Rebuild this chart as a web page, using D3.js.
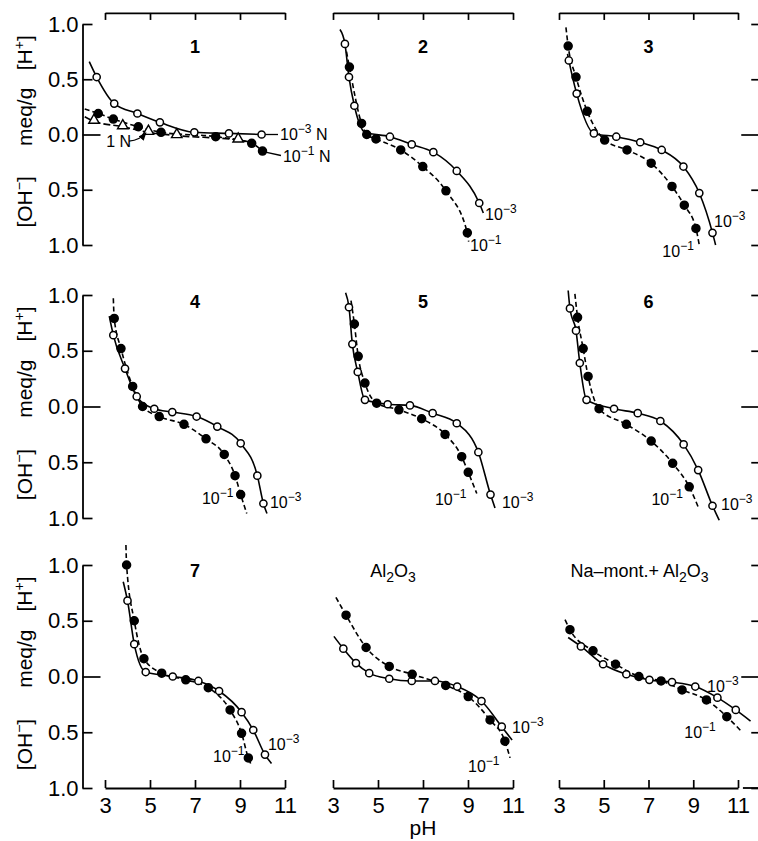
<!DOCTYPE html>
<html>
<head>
<meta charset="utf-8">
<script src="https://cdn.jsdelivr.net/npm/d3@7"></script>
<style>
body { margin: 0; background: #fff; }
svg { display: block; }
text { font-family: "Liberation Sans", Arial, Helvetica, sans-serif; fill: #000; }
</style>
</head>
<body>
<div id="chart"></div>
<script>
var w = 758;
var h = 841;

// tick values
var phTicks = [3, 5, 7, 9, 11];
var yTicks = [-1, -0.5, 0, 0.5, 1];

// data: [pH, meq/g] with H+ positive and OH- negative
// "Ext" arrays are extra points (ends, knees)
var p1Open = [[2.63, 0.52], [3.41, 0.28], [4.44, 0.19], [5.44, 0.11], [6.97, 0.02], [8.51, 0.01], [9.96, 0.0]];
var p1OpenExt = [[2.3, 0.66]];
var p1Fill = [[2.70, 0.19], [3.37, 0.14], [4.48, 0.07], [5.49, 0.02], [7.92, -0.02], [9.52, -0.08], [10.0, -0.15]];
var p1FillExt = [[2.1, 0.23]];
var p1Tri = [[2.51, 0.12], [3.79, 0.07], [4.93, 0.02], [6.19, -0.01], [8.92, -0.05]];
var p1TriExt = [[2.1, 0.16], [9.5, -0.07]];

var p2Open = [[3.53, 0.82], [3.71, 0.52], [3.95, 0.26], [5.53, -0.02], [6.5, -0.09], [7.46, -0.16], [8.5, -0.33], [9.5, -0.62]];
var p2OpenExt = [[3.31, 0.95], [4.42, 0.02], [9.68, -0.71]];
var p2Fill = [[3.73, 0.61], [4.27, 0.10], [4.5, 0.0], [4.91, -0.04], [6.01, -0.14], [6.99, -0.29], [8.02, -0.51], [8.97, -0.89]];
var p2FillExt = [[3.6, 0.75], [9.03, -0.97]];

var p3Fill = [[3.41, 0.80], [3.76, 0.52], [4.26, 0.21], [5.04, -0.05], [6.04, -0.14], [7.12, -0.26], [8.05, -0.47], [8.6, -0.64], [9.12, -0.85]];
var p3FillExt = [[3.31, 0.97], [9.27, -1.0]];
var p3Open = [[3.44, 0.67], [3.79, 0.37], [4.56, 0.01], [5.56, -0.02], [6.63, -0.07], [7.59, -0.14], [8.56, -0.29], [9.27, -0.53], [9.86, -0.89]];
var p3OpenExt = [[3.38, 0.73], [10.0, -1.0]];

var p4Fill = [[3.41, 0.79], [3.71, 0.52], [4.23, 0.18], [4.67, 0.0], [5.41, -0.09], [6.51, -0.16], [7.49, -0.29], [8.3, -0.43], [8.78, -0.62], [9.03, -0.79]];
var p4FillExt = [[3.37, 0.97], [9.3, -0.96]];
var p4Open = [[3.37, 0.64], [3.89, 0.34], [4.41, 0.09], [5.19, -0.02], [5.99, -0.05], [7.07, -0.09], [7.99, -0.18], [9.03, -0.33], [9.77, -0.62], [10.04, -0.87]];
var p4OpenExt = [[3.19, 0.81], [10.2, -0.96]];

var p5Open = [[3.71, 0.89], [3.86, 0.56], [4.1, 0.31], [4.42, 0.06], [5.43, 0.02], [6.42, 0.01], [7.43, -0.06], [8.5, -0.15], [9.46, -0.41], [10.0, -0.79]];
var p5OpenExt = [[3.56, 1.02], [10.2, -0.91]];
var p5Fill = [[3.95, 0.74], [4.12, 0.45], [4.42, 0.21], [4.94, 0.03], [5.93, -0.03], [6.94, -0.11], [7.98, -0.25], [8.72, -0.45], [9.01, -0.59]];
var p5FillExt = [[3.8, 0.95], [9.39, -0.78]];

var p6Open = [[3.49, 0.88], [3.76, 0.68], [3.93, 0.39], [4.23, 0.06], [5.46, -0.02], [6.52, -0.06], [7.53, -0.13], [8.57, -0.34], [9.22, -0.57], [9.86, -0.89]];
var p6OpenExt = [[3.41, 1.04], [10.16, -1.02]];
var p6Fill = [[3.83, 0.80], [4.08, 0.52], [4.3, 0.27], [4.79, -0.02], [6.01, -0.16], [7.12, -0.31], [8.08, -0.51], [8.82, -0.72]];
var p6FillExt = [[3.71, 1.01], [9.24, -0.91]];

var p7Fill = [[3.96, 1.0], [4.3, 0.50], [4.73, 0.16], [5.52, 0.03], [6.59, -0.03], [7.59, -0.10], [8.56, -0.30], [9.07, -0.51], [9.37, -0.73]];
var p7FillExt = [[3.93, 1.18], [9.52, -0.80]];
var p7Open = [[4.0, 0.68], [4.3, 0.29], [4.81, 0.04], [6.01, 0.0], [7.15, -0.04], [8.07, -0.13], [9.07, -0.32], [9.59, -0.48], [10.11, -0.70]];
var p7OpenExt = [[3.81, 0.85], [10.4, -0.78]];

var alFill = [[3.58, 0.55], [4.47, 0.26], [5.5, 0.09], [6.52, 0.02], [8.01, -0.08], [9.01, -0.18], [9.98, -0.39], [10.64, -0.58]];
var alFillExt = [[3.13, 0.71], [10.87, -0.73]];
var alOpen = [[3.46, 0.25], [4.02, 0.12], [4.61, 0.03], [5.5, -0.02], [6.5, -0.04], [7.53, -0.04], [8.52, -0.09], [9.6, -0.22], [10.5, -0.45]];
var alOpenExt = [[3.04, 0.36], [10.96, -0.57]];

var naFill = [[3.49, 0.42], [4.52, 0.23], [5.53, 0.11], [6.57, 0.0], [7.56, -0.04], [8.5, -0.12], [9.59, -0.21], [10.5, -0.36]];
var naFillExt = [[3.27, 0.51], [11.19, -0.50]];
var naOpen = [[3.98, 0.27], [4.97, 0.11], [6.01, 0.02], [7.04, -0.03], [8.05, -0.05], [9.09, -0.09], [10.08, -0.19], [10.9, -0.30]];
var naOpenExt = [[3.41, 0.35], [11.56, -0.40]];

// layout
var colRange = [[105, 285], [333, 513], [559, 738]];
var rowRange = [[245, 24], [518, 295], [788, 565]];

function lab(at, exp, tail) {
  return { at: at, exp: exp, tail: tail };
}

var panels = [
  { col: 0, row: 0, title: [["1"]], bold: true, tAt: [7, 0.74],
    series: [
      { pts: p1Open, ext: p1OpenExt, mark: "open" },
      { pts: p1Tri, ext: p1TriExt, mark: "tri", dash: "7,3" },
      { pts: p1Fill, ext: p1FillExt, mark: "fill", dash: "5,3" }],
    labels: [lab([10.78, -0.05], "\u22123", " N"), lab([10.91, -0.25], "\u22121", " N")] },
  { col: 1, row: 0, title: [["2"]], bold: true, tAt: [7, 0.74],
    series: [
      { pts: p2Open, ext: p2OpenExt, mark: "open" },
      { pts: p2Fill, ext: p2FillExt, mark: "fill", dash: "5,3" }],
    labels: [lab([9.76, -0.77], "\u22123"), lab([9.09, -1.05], "\u22121")] },
  { col: 2, row: 0, title: [["3"]], bold: true, tAt: [7, 0.74],
    series: [
      { pts: p3Open, ext: p3OpenExt, mark: "open" },
      { pts: p3Fill, ext: p3FillExt, mark: "fill", dash: "5,3" }],
    labels: [lab([9.93, -0.84], "\u22123"), lab([7.62, -1.11], "\u22121")] },
  { col: 0, row: 1, title: [["4"]], bold: true, tAt: [7, 0.88],
    series: [
      { pts: p4Open, ext: p4OpenExt, mark: "open" },
      { pts: p4Fill, ext: p4FillExt, mark: "fill", dash: "5,3" }],
    labels: [lab([7.31, -0.87], "\u22121"), lab([10.33, -0.91], "\u22123")] },
  { col: 1, row: 1, title: [["5"]], bold: true, tAt: [7, 0.88],
    series: [
      { pts: p5Open, ext: p5OpenExt, mark: "open" },
      { pts: p5Fill, ext: p5FillExt, mark: "fill", dash: "5,3" }],
    labels: [lab([7.53, -0.88], "\u22121"), lab([10.51, -0.91], "\u22123")] },
  { col: 2, row: 1, title: [["6"]], bold: true, tAt: [7, 0.88],
    series: [
      { pts: p6Open, ext: p6OpenExt, mark: "open" },
      { pts: p6Fill, ext: p6FillExt, mark: "fill", dash: "5,3" }],
    labels: [lab([7.13, -0.88], "\u22121"), lab([10.24, -0.93], "\u22123")] },
  { col: 0, row: 2, title: [["7"]], bold: true, tAt: [7, 0.89],
    series: [
      { pts: p7Open, ext: p7OpenExt, mark: "open" },
      { pts: p7Fill, ext: p7FillExt, mark: "fill", dash: "5,3" }],
    labels: [lab([7.8, -0.77], "\u22121"), lab([10.24, -0.66], "\u22123")] },
  { col: 1, row: 2, title: [["Al"], ["2", 1], ["O"], ["3", 1]], tAt: [5.67, 0.89],
    series: [
      { pts: alOpen, ext: alOpenExt, mark: "open" },
      { pts: alFill, ext: alFillExt, mark: "fill", dash: "5,3" }],
    labels: [lab([10.96, -0.51], "\u22123"), lab([9.0, -0.86], "\u22121")] },
  { col: 2, row: 2, title: [["Na\u2013mont.+ Al"], ["2", 1], ["O"], ["3", 1]], tAt: [6.6, 0.89],
    series: [
      { pts: naOpen, ext: naOpenExt, mark: "open" },
      { pts: naFill, ext: naFillExt, mark: "fill", dash: "5,3" }],
    labels: [lab([9.62, -0.14], "\u22123"), lab([8.6, -0.55], "\u22121")] }
];

var svg = d3.select("#chart").append("svg").attr("width", w).attr("height", h);

svg.append("defs").append("marker")
  .attr("id", "arrow")
  .attr("viewBox", "0 0 10 10")
  .attr("refX", 9).attr("refY", 5)
  .attr("markerWidth", 7).attr("markerHeight", 7)
  .attr("orient", "auto")
  .append("path").attr("d", "M0,1L10,5L0,9Z").attr("fill", "#000");

function styleAxis(g) {
  g.attr("font-family", null).attr("font-size", null);
  g.selectAll("path.domain").attr("stroke", "#000").attr("stroke-width", 1.8);
  g.selectAll(".tick line").attr("stroke", "#000").attr("stroke-width", 1.7);
}

panels.forEach(function (p) {
  var x = d3.scaleLinear().domain([3, 11]).range(colRange[p.col]);
  var y = d3.scaleLinear().domain([-1, 1]).range(rowRange[p.row]);
  var g = svg.append("g");

  var line = d3.line()
    .x(function (d) { return x(d[0]); })
    .y(function (d) { return y(d[1]); })
    .curve(d3.curveMonotoneX);

  // curves
  p.series.forEach(function (s) {
    var pts = s.pts.concat(s.ext).sort(function (a, b) { return a[0] - b[0]; });
    g.append("path")
      .attr("d", line(pts))
      .attr("fill", "none")
      .attr("stroke", "#000")
      .attr("stroke-width", 1.6)
      .attr("stroke-dasharray", s.dash || null);
  });

  // markers
  p.series.forEach(function (s) {
    if (s.mark === "tri") {
      g.selectAll(null).data(s.pts).enter().append("path")
        .attr("d", d3.symbol().type(d3.symbolTriangle).size(48))
        .attr("transform", function (d) { return "translate(" + x(d[0]) + "," + (y(d[1]) - 1) + ")"; })
        .attr("fill", "#fff").attr("stroke", "#000").attr("stroke-width", 1.4);
    } else {
      g.selectAll(null).data(s.pts).enter().append("circle")
        .attr("cx", function (d) { return x(d[0]); })
        .attr("cy", function (d) { return y(d[1]); })
        .attr("r", s.mark === "open" ? 3.6 : 4)
        .attr("fill", s.mark === "open" ? "#fff" : "#000")
        .attr("stroke", "#000").attr("stroke-width", 1.5);
    }
  });

  // concentration labels
  p.labels.forEach(function (l) {
    var t = g.append("text")
      .attr("x", x(l.at[0])).attr("y", y(l.at[1]))
      .attr("font-size", 16);
    t.append("tspan").text("10");
    t.append("tspan").attr("dy", -7).attr("font-size", 12).text(l.exp);
    if (l.tail) t.append("tspan").attr("dy", 7).text(l.tail);
  });

  // panel 1 extras: leaders and the 1 N arrow
  if (p.col === 0 && p.row === 0) {
    g.append("line")
      .attr("x1", x(9.96) + 4).attr("y1", y(0))
      .attr("x2", x(10.69)).attr("y2", y(0))
      .attr("stroke", "#000").attr("stroke-width", 1.3);
    g.append("line")
      .attr("x1", x(10.0) + 3).attr("y1", y(-0.16))
      .attr("x2", x(10.82)).attr("y2", y(-0.19))
      .attr("stroke", "#000").attr("stroke-width", 1.3);
    g.append("text")
      .attr("x", x(3.05)).attr("y", y(-0.11))
      .attr("font-size", 16).text("1 N");
    g.append("path")
      .attr("d", "M" + x(4.07) + "," + y(-0.06) + "Q" + x(4.55) + "," + y(-0.05) + " " + x(4.82) + "," + y(0.015))
      .attr("fill", "none").attr("stroke", "#000").attr("stroke-width", 1.2)
      .attr("marker-end", "url(#arrow)");
  }

  // panel title
  var tt = g.append("text")
    .attr("x", x(p.tAt[0])).attr("y", y(p.tAt[1]))
    .attr("text-anchor", "middle")
    .attr("font-size", 18)
    .attr("font-weight", p.bold ? "bold" : null);
  var shift = 0;
  p.title.forEach(function (part) {
    var want = part[1] ? 5 : 0;
    tt.append("tspan")
      .attr("dy", want - shift)
      .attr("font-size", part[1] ? 14 : null)
      .text(part[0]);
    shift = want;
  });

  // left axis
  if (p.col === 0) {
    var ax = g.append("g")
      .attr("transform", "translate(" + x(2) + ",0)")
      .call(d3.axisLeft(y).tickValues(yTicks).tickSizeInner(-10).tickSizeOuter(0).tickPadding(5)
        .tickFormat(function (d) { return Math.abs(d).toFixed(1); }));
    styleAxis(ax);
    ax.selectAll(".tick text").attr("font-size", 22).attr("x", -4);
    ax.selectAll(".tick").filter(function (d) { return d === 0; }).select("line").attr("x2", 18);

    // y title, reading upwards
    var yt = [["[OH", "\u2212", "]", -0.61], ["meq/g", "", "", 0.16], ["[H", "+", "]", 0.74]];
    yt.forEach(function (a) {
      var t = g.append("text")
        .attr("transform", "translate(32," + y(a[3]) + ") rotate(-90)")
        .attr("text-anchor", "middle")
        .attr("font-size", 21);
      t.append("tspan").text(a[0]);
      if (a[1]) {
        t.append("tspan").attr("dy", -8).attr("font-size", 14).text(a[1]);
        t.append("tspan").attr("dy", 8).text(a[2]);
      }
    });
  }

  // right ticks
  if (p.col === 2) {
    var ar = g.append("g")
      .attr("transform", "translate(" + x(11.95) + ",0)")
      .call(d3.axisRight(y).tickValues(yTicks).tickSizeInner(-8).tickSizeOuter(0).tickFormat(""));
    styleAxis(ar);
    ar.selectAll(".tick").filter(function (d) { return d === 0; }).select("line").attr("x2", -18);
  }

  // top axis
  if (p.row === 0) {
    var at = g.append("g")
      .attr("transform", "translate(0," + y(1.1) + ")")
      .call(d3.axisTop(x).tickValues(phTicks).tickSizeInner(-7).tickSizeOuter(0).tickFormat(""));
    styleAxis(at);
  }

  // bottom axis
  if (p.row === 2) {
    var ab = g.append("g")
      .attr("transform", "translate(0," + y(-1) + ")")
      .call(d3.axisBottom(x).tickValues(phTicks).tickSizeInner(-8).tickSizeOuter(0).tickPadding(9));
    styleAxis(ab);
    ab.selectAll(".tick text").attr("font-size", 22);
    if (p.col === 2) {
      g.append("line")
        .attr("x1", x(11.22)).attr("x2", w)
        .attr("y1", y(-1)).attr("y2", y(-1))
        .attr("stroke", "#000").attr("stroke-width", 1.8);
    }
    if (p.col === 1) {
      g.append("text")
        .attr("x", x(7)).attr("y", y(-1) + 47)
        .attr("text-anchor", "middle")
        .attr("font-size", 21)
        .text("pH");
    }
  }
});
</script>
</body>
</html>
